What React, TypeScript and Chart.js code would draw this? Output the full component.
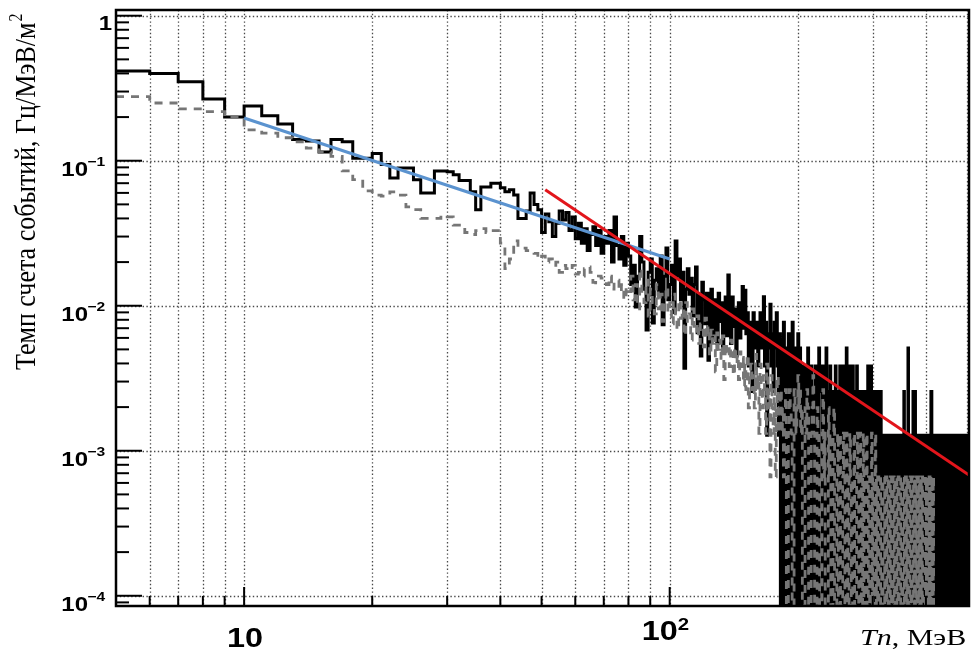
import React, { useEffect, useRef } from "react";
import { Chart, registerables } from "chart.js";

Chart.register(...registerables);

// ---------- axis ranges ----------
const X_MIN = 5; // MeV
const X_MAX = 505;
const Y_MIN = 8.5e-5; // Hz/MeV/m^2
const Y_MAX = 1.095;

// ---------- histogram binning: 1 MeV bins starting at 5 MeV ----------
const BIN_START = 5;
const BIN_WIDTH = 1;

// ---------- black solid histogram (rate per bin) ----------
const blackA = [ // 5..49 MeV
  0.416, 0.40, 0.35, 0.267, 0.20,
  0.238, 0.204, 0.179, 0.140, 0.137, 0.115, 0.140, 0.135, 0.104, 0.104,
  0.112, 0.094, 0.076, 0.089, 0.089, 0.074, 0.060, 0.060, 0.085, 0.085,
  0.084, 0.080, 0.073, 0.073, 0.061, 0.046, 0.066, 0.066, 0.070, 0.070,
  0.065, 0.061, 0.063, 0.058, 0.040, 0.040, 0.045, 0.060, 0.050, 0.046,
];
const blackB = [ // 50..99 MeV
  0.032, 0.043, 0.038, 0.030, 0.037, 0.045, 0.039, 0.044, 0.033, 0.041,
  0.029, 0.037, 0.027, 0.034, 0.024, 0.031, 0.035, 0.026, 0.033, 0.023,
  0.030, 0.027, 0.033, 0.020, 0.041, 0.026, 0.021, 0.030, 0.019, 0.027,
  0.022, 0.014, 0.019, 0.0098, 0.016, 0.030, 0.020, 0.013, 0.0068, 0.017,
  0.021, 0.0076, 0.015, 0.018, 0.012, 0.022, 0.0074, 0.016, 0.025, 0.011,
];
const blackC = [ // 100..149 MeV
  0.014, 0.019, 0.009, 0.028, 0.016, 0.021, 0.011, 0.017, 0.0037, 0.013,
  0.018, 0.012, 0.0155, 0.0085, 0.014, 0.0185, 0.0065, 0.012, 0.0045, 0.0145,
  0.011, 0.0075, 0.0122, 0.0042, 0.0095, 0.013, 0.006, 0.011, 0.0085, 0.0055,
  0.0122, 0.0078, 0.0105, 0.0048, 0.009, 0.0115, 0.0062, 0.0163, 0.0088, 0.0055,
  0.0115, 0.0072, 0.0095, 0.0045, 0.0085, 0.0105, 0.006, 0.0088, 0.0136, 0.007,
];
const blackD = [ // 150..199 MeV
  0.0128, 0.0064, 0.00896, 0.00384, 0.00768, 0.00512, 0.00256, 0.00896, 0.0064, 0.00512,
  0.00768, 0.00384, 0.0064, 0.00896, 0.00512, 0.0064, 0.01152, 0.00384, 0.00768, 0.00128,
  0.0064, 0.00512, 0.01024, 0.00384, 0.0064, 0.00256, 0.00768, 0.00512, 0.00896, 0.00384,
  0.00128, 0.0064, 0, 0.00512, 0, 0.00768, 0.00384, 0, 0.00512, 0,
  0.0064, 0, 0.00384, 0, 0.00768, 0.00256, 0, 0.00512, 0, 0.00384,
];
const blackE = [ // 200..299 MeV
  0.0064, 0, 0.00512, 0, 0.00256, 0.00384, 0, 0.00384, 0, 0.00256,
  0, 0.00512, 0, 0.00128, 0, 0.00384, 0, 0.00256, 0.00128, 0,
  0.00384, 0, 0.00256, 0, 0.00512, 0.00256, 0.00256, 0.00384, 0, 0.00256,
  0, 0.00384, 0, 0.00512, 0, 0.00256, 0.00128, 0, 0.00384, 0,
  0.00256, 0, 0.00128, 0, 0.00256, 0.00384, 0, 0.00128, 0, 0.00256,
  0, 0.00384, 0, 0.00256, 0, 0.00128, 0.00384, 0, 0.00128, 0,
  0.00512, 0, 0.00128, 0, 0.00384, 0, 0.00256, 0, 0.00128, 0.00384,
  0, 0.00128, 0, 0.00256, 0, 0.00384, 0, 0.00256, 0, 0.00128,
  0, 0.00256, 0, 0.00128, 0.00128, 0, 0.00256, 0, 0.00128, 0,
  0.00256, 0, 0.00384, 0, 0.00128, 0, 0.00256, 0.00384, 0, 0.00128,
];
const blackF = [ // 300..504 MeV
  0.00256, 0, 0.00256, 0.00128, 0, 0.00256, 0, 0.00128, 0.00256, 0,
  0.00256, 0.00128, 0, 0.00256, 0, 0.00128, 0, 0.00128, 0.00128, 0,
  0.00128, 0, 0.00128, 0, 0.00128, 0.00128, 0, 0.00128, 0, 0.00128,
  0, 0.00128, 0.00128, 0, 0.00128, 0, 0.00128, 0, 0.00128, 0.00128,
  0, 0.00128, 0, 0.00128, 0, 0.00128, 0.00128, 0, 0.00128, 0,
  0.00128, 0, 0.00128, 0, 0.00128, 0.00256, 0, 0.00128, 0, 0.00128,
  0, 0.00128, 0.00128, 0.00512, 0, 0.00128, 0, 0.00128, 0.00128, 0,
  0.00128, 0, 0.00128, 0.00256, 0, 0.00128, 0, 0.00256, 0.00128, 0,
  0.00128, 0, 0.00128, 0, 0.00128, 0.00128, 0, 0.00128, 0, 0.00128,
  0, 0.00128, 0, 0.00128, 0.00128, 0.00128, 0.00128, 0.00128, 0.00128, 0,
  0.00128, 0, 0.00128, 0, 0.00128, 0, 0.00128, 0.00128, 0, 0.00128,
  0, 0.00256, 0.00256, 0, 0.00128, 0, 0.00128, 0, 0.00128, 0,
  0.00128, 0.00128, 0, 0.00128, 0, 0.00128, 0, 0.00128, 0.00128, 0.00128,
  0.00128, 0.00128, 0.00128, 0, 0.00128, 0, 0.00128, 0, 0.00128, 0,
  0.00128, 0, 0.00128, 0.00128, 0, 0.00128, 0, 0.00128, 0, 0.00128,
  0, 0.00128, 0, 0.00128, 0.00128, 0, 0.00128, 0, 0.00128, 0,
  0.00128, 0, 0.00128, 0, 0.00128, 0.00128, 0, 0.00128, 0.00128, 0.00128,
  0.00128, 0.00128, 0.00128, 0, 0.00128, 0, 0.00128, 0, 0.00128, 0,
  0.00128, 0, 0.00128, 0.00128, 0, 0.00128, 0, 0.00128, 0, 0.00128,
  0, 0.00128, 0.00128, 0, 0.00128, 0, 0.00128, 0, 0.00128, 0.00128,
  0, 0.00128, 0, 0.00128, 0.00128,
];

// ---------- grey dashed histogram (rate per bin) ----------
const grayA = [ // 5..49 MeV
  0.277, 0.25, 0.228, 0.218, 0.20,
  0.163, 0.155, 0.144, 0.135, 0.122, 0.115, 0.107, 0.085, 0.074, 0.062,
  0.058, 0.057, 0.061, 0.058, 0.048, 0.046, 0.040, 0.040, 0.040, 0.042,
  0.041, 0.036, 0.036, 0.032, 0.031, 0.033, 0.034, 0.032, 0.033, 0.033,
  0.027, 0.018, 0.021, 0.028, 0.025, 0.025, 0.024, 0.024, 0.023, 0.021,
];
const grayB = [ // 50..99 MeV
  0.022, 0.020, 0.021, 0.019, 0.020, 0.017, 0.019, 0.018, 0.0175, 0.019,
  0.0165, 0.017, 0.016, 0.018, 0.0185, 0.017, 0.0145, 0.0144, 0.016, 0.0155,
  0.015, 0.014, 0.016, 0.013, 0.0145, 0.015, 0.0125, 0.014, 0.011, 0.0135,
  0.0125, 0.016, 0.011, 0.014, 0.0095, 0.018, 0.012, 0.0105, 0.015, 0.0085,
  0.013, 0.0105, 0.0088, 0.014, 0.0095, 0.012, 0.0078, 0.011, 0.0135, 0.009,
];
const grayC = [ // 100..149 MeV
  0.0105, 0.0075, 0.012, 0.0088, 0.0068, 0.011, 0.0082, 0.0095, 0.0062, 0.0105,
  0.0078, 0.0088, 0.0058, 0.0095, 0.0072, 0.0065, 0.0085, 0.0055, 0.0075, 0.0068,
  0.0052, 0.0082, 0.006, 0.0072, 0.0045, 0.0068, 0.0055, 0.0062, 0.0035, 0.0065,
  0.005, 0.0058, 0.0042, 0.0062, 0.0031, 0.0055, 0.0048, 0.0052, 0.0038, 0.0058,
  0.0045, 0.0033, 0.0052, 0.004, 0.0046, 0.0031, 0.0048, 0.0038, 0.0044, 0.0028,
];
const grayD = [ // 150..199 MeV
  0.00396, 0.00264, 0.00462, 0.00198, 0.0033, 0.00396, 0.00264, 0.0033, 0.00198, 0.00462,
  0.00264, 0.0033, 0.00132, 0.00396, 0.00264, 0.00198, 0.0033, 0.00264, 0.00132, 0.00396,
  0.00198, 0.00264, 0.00066, 0.0033, 0.00198, 0.00132, 0.00264, 0.00066, 0.00198, 0.0033,
  0.00132, 0.00198, 0.00264, 0.00132, 0.00198, 0.00066, 0.00198, 0.00264, 0, 0,
  0.00132, 0.00264, 0.00198, 0.00132, 0, 0, 0.00264, 0.00198, 0.00132, 0.00198,
];
const grayE = [ // 200..299 MeV
  0.0033, 0.00198, 0.00264, 0.00132, 0.00198, 0, 0, 0, 0.00198, 0.00132,
  0.00264, 0.00198, 0, 0, 0, 0.00132, 0.00198, 0.0033, 0.00132, 0,
  0, 0, 0.00198, 0.00132, 0.00066, 0, 0, 0, 0.00132, 0.00264,
  0.00066, 0.00132, 0, 0, 0, 0, 0.00198, 0.00066, 0.00132, 0,
  0, 0, 0.00132, 0.00198, 0, 0, 0, 0.00066, 0.00132, 0,
  0, 0.00132, 0, 0, 0, 0.00066, 0.00132, 0.00066, 0, 0,
  0.00132, 0.00066, 0, 0, 0.00066, 0.00132, 0.00066, 0, 0, 0.00066,
  0.00066, 0.00132, 0, 0, 0, 0.00066, 0.00132, 0.00066, 0, 0,
  0.00132, 0.00066, 0, 0, 0.00066, 0.00132, 0, 0, 0.00066, 0.00066,
  0.00132, 0, 0, 0.00066, 0.00066, 0, 0, 0.00066, 0.00132, 0,
];
const grayF = [ // 300..419 MeV (empty above)
  0.00066, 0.00066, 0, 0, 0.00132, 0.00066, 0, 0, 0.00066, 0.00066,
  0, 0, 0, 0.00066, 0.00066, 0, 0, 0.00066, 0.00066, 0.00066,
  0, 0, 0.00066, 0.00066, 0, 0, 0.00066, 0.00066, 0, 0,
  0.00066, 0.00066, 0, 0, 0, 0.00066, 0.00066, 0, 0, 0.00066,
  0.00066, 0.00066, 0, 0, 0.00066, 0.00066, 0, 0, 0, 0.00066,
  0.00066, 0, 0, 0.00066, 0.00066, 0.00066, 0, 0, 0.00066, 0.00066,
  0, 0, 0.00066, 0.00066, 0, 0, 0, 0.00066, 0.00066, 0,
  0, 0.00066, 0.00066, 0.00066, 0, 0, 0.00066, 0.00066, 0, 0,
  0.00066, 0.00066, 0, 0, 0.00066, 0.00066, 0, 0, 0.00066, 0.00066,
  0, 0, 0.00066, 0, 0, 0, 0, 0, 0, 0.00066,
  0.00066, 0, 0, 0.00066, 0.00066, 0, 0, 0.00066, 0.00066, 0,
  0, 0.00066, 0.00066, 0, 0, 0, 0.00066, 0, 0, 0,
];

// ---------- power-law fits (end points) ----------
const blueFitE = [10, 100];
const blueFitRate = [0.197, 0.021];
const redFitE = [51, 505];
const redFitRate = [0.063, 0.00068];

// ---------- ticks ----------
const xMajorTicks = [10, 100];
const xMajorBase = ["10", "10"];
const xMajorExp = ["", "2"];
const xMinorTicks = [6, 7, 8, 9, 20, 30, 40, 50, 60, 70, 80, 90, 200, 300, 400, 500];
const yDecades = [1, 0.1, 0.01, 0.001, 0.0001];
const yDecadeBase = ["1", "10", "10", "10", "10"];
const yDecadeExp = ["", "−1", "−2", "−3", "−4"];
const yMinorMultipliers = [2, 3, 4, 5, 6, 7, 8, 9];

// ---------- titles ----------
const yTitle = "Темп счета событий, Гц/МэВ/м";
const yTitleSup = "2";
const xTitleItalic = "Tn";
const xTitleRest = ", МэВ";

const SANS = '"Liberation Sans", Arial, sans-serif';
const SERIF = '"Liberation Serif", "Times New Roman", serif';
const TEXT_SX = 1.2;

function histPoints(vals: number[]) {
  const pts = vals.map((v, i) => ({ x: BIN_START + i * BIN_WIDTH, y: v > 0 ? v : Y_MIN }));
  const last = vals[vals.length - 1];
  pts.push({ x: BIN_START + vals.length * BIN_WIDTH, y: last > 0 ? last : Y_MIN });
  return pts;
}

function stretchedText(ctx: CanvasRenderingContext2D, text: string, x: number, y: number, font: string, align: CanvasTextAlign, sx = TEXT_SX) {
  ctx.save();
  ctx.translate(x, y);
  ctx.scale(sx, 1);
  ctx.font = font;
  ctx.textAlign = align;
  ctx.textBaseline = "alphabetic";
  ctx.fillStyle = "#000";
  ctx.fillText(text, 0, 0);
  ctx.restore();
}

function seg(ctx: CanvasRenderingContext2D, x1: number, y1: number, x2: number, y2: number) {
  ctx.beginPath();
  ctx.moveTo(x1, y1);
  ctx.lineTo(x2, y2);
  ctx.stroke();
}

const rootAxesPlugin = {
  id: "rootAxes",
  beforeDatasetsDraw(chart: any) {
    const { ctx, chartArea: a, scales } = chart;
    const xs = scales.x;
    const ys = scales.y;
    ctx.save();
    ctx.strokeStyle = "#4a4a4a";
    ctx.lineWidth = 1.3;
    ctx.setLineDash([1.4, 2.4]);
    for (const v of [...xMinorTicks, ...xMajorTicks]) {
      const px = Math.round(xs.getPixelForValue(v)) + 0.5;
      seg(ctx, px, a.top, px, a.bottom);
    }
    for (const v of yDecades) {
      const py = Math.round(ys.getPixelForValue(v)) + 0.5;
      seg(ctx, a.left, py, a.right, py);
    }
    ctx.restore();
  },
  afterDatasetsDraw(chart: any) {
    const { ctx, chartArea: a, scales } = chart;
    const xs = scales.x;
    const ys = scales.y;
    ctx.save();
    ctx.strokeStyle = "#000";
    ctx.lineWidth = 2;
    ctx.setLineDash([]);
    for (const v of yDecades) {
      const py = ys.getPixelForValue(v);
      seg(ctx, a.left, py, a.left + 26, py);
    }
    for (let e = -5; e <= 0; e++) {
      for (const m of yMinorMultipliers) {
        const v = m * Math.pow(10, e);
        if (v <= Y_MIN || v >= Y_MAX) continue;
        const py = ys.getPixelForValue(v);
        seg(ctx, a.left, py, a.left + 13, py);
      }
    }
    for (const v of xMajorTicks) {
      const px = xs.getPixelForValue(v);
      seg(ctx, px, a.bottom, px, a.bottom - 19);
    }
    for (const v of xMinorTicks) {
      const px = xs.getPixelForValue(v);
      seg(ctx, px, a.bottom, px, a.bottom - 10);
    }
    ctx.lineWidth = 2.5;
    ctx.strokeRect(a.left, a.top, a.right - a.left, a.bottom - a.top);
    ctx.restore();

    yDecades.forEach((v, i) => {
      const py = ys.getPixelForValue(v);
      if (!yDecadeExp[i]) {
        stretchedText(ctx, yDecadeBase[i], 112, py + 14, `bold 20px ${SANS}`, "right");
      } else {
        stretchedText(ctx, yDecadeBase[i], 88, py + 15, `bold 20px ${SANS}`, "right");
        stretchedText(ctx, yDecadeExp[i], 87.5, py + 5, `bold 13px ${SANS}`, "left");
      }
    });
    xMajorTicks.forEach((v, i) => {
      const px = xs.getPixelForValue(v);
      if (!xMajorExp[i]) {
        stretchedText(ctx, xMajorBase[i], px + 1, a.bottom + 41, `bold 27px ${SANS}`, "center");
      } else {
        stretchedText(ctx, xMajorBase[i], px + 8, a.bottom + 34, `bold 27px ${SANS}`, "right");
        stretchedText(ctx, xMajorExp[i], px + 8, a.bottom + 24, `bold 17px ${SANS}`, "left");
      }
    });

    ctx.save();
    ctx.translate(35, 370);
    ctx.scale(1.12, 1);
    ctx.rotate(-Math.PI / 2);
    ctx.fillStyle = "#000";
    ctx.textAlign = "left";
    ctx.textBaseline = "alphabetic";
    ctx.font = `26px ${SERIF}`;
    ctx.fillText(yTitle, 0, 0);
    const w = ctx.measureText(yTitle).width;
    ctx.font = `16px ${SERIF}`;
    ctx.fillText(yTitleSup, w + 1, -12);
    ctx.restore();

    ctx.save();
    ctx.translate(860, 645);
    ctx.scale(1.25, 1);
    ctx.fillStyle = "#000";
    ctx.textAlign = "left";
    ctx.textBaseline = "alphabetic";
    ctx.font = `italic 24px ${SERIF}`;
    ctx.fillText(xTitleItalic, 0, 0);
    const wi = ctx.measureText(xTitleItalic).width;
    ctx.font = `24px ${SERIF}`;
    ctx.fillText(xTitleRest, wi, 0);
    ctx.restore();
  },
};

export default function App() {
  const ref = useRef<HTMLCanvasElement | null>(null);
  useEffect(() => {
    if (!ref.current) return;
    const black = [...blackA, ...blackB, ...blackC, ...blackD, ...blackE, ...blackF];
    const gray = [...grayA, ...grayB, ...grayC, ...grayD, ...grayE, ...grayF];
    const chart = new Chart(ref.current, {
      type: "line",
      data: {
        datasets: [
          {
            label: "fit 50–500 MeV",
            data: redFitE.map((e, i) => ({ x: e, y: redFitRate[i] })),
            borderColor: "#e2151b",
            borderWidth: 3,
            pointRadius: 0,
            fill: false,
            order: 0,
          },
          {
            label: "fit 10–100 MeV",
            data: blueFitE.map((e, i) => ({ x: e, y: blueFitRate[i] })),
            borderColor: "#5b93cf",
            borderWidth: 3,
            pointRadius: 0,
            fill: false,
            order: 1,
          },
          {
            label: "grey",
            data: histPoints(gray),
            borderColor: "#767676",
            borderWidth: 2.8,
            borderDash: [8, 7],
            stepped: true,
            pointRadius: 0,
            fill: false,
            borderJoinStyle: "miter",
            order: 2,
          },
          {
            label: "black",
            data: histPoints(black),
            borderColor: "#000",
            borderWidth: 3,
            stepped: true,
            pointRadius: 0,
            fill: false,
            borderJoinStyle: "miter",
            order: 3,
          },
        ],
      },
      options: {
        animation: false,
        responsive: true,
        maintainAspectRatio: false,
        events: [],
        layout: { padding: { left: 116, top: 10, right: 6, bottom: 56 } },
        scales: {
          x: { type: "logarithmic", min: X_MIN, max: X_MAX, display: false },
          y: { type: "logarithmic", min: Y_MIN, max: Y_MAX, display: false },
        },
        plugins: { legend: { display: false }, tooltip: { enabled: false } },
      },
      plugins: [rootAxesPlugin],
    } as any);
    return () => chart.destroy();
  }, []);
  return (
    <div style={{ position: "absolute", left: 0, top: 0, width: 975, height: 662, background: "#fff" }}>
      <canvas ref={ref} />
    </div>
  );
}
